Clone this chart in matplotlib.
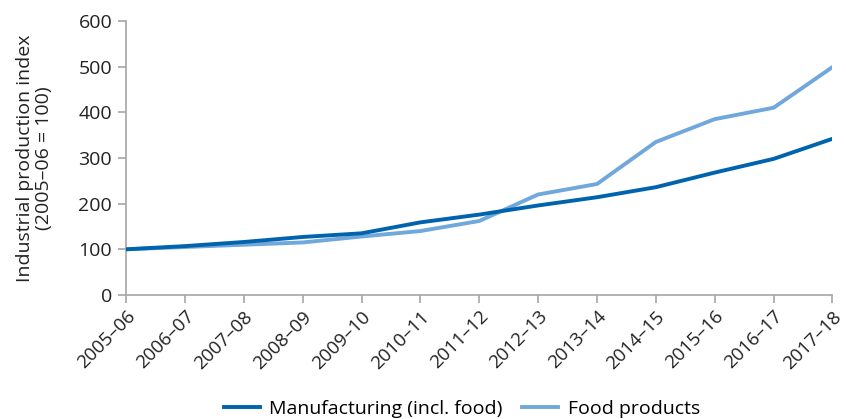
import matplotlib.pyplot as plt
import numpy as np

plt.rcParams["font.family"] = ["Open Sans", "DejaVu Sans"]

years = ["2005–06", "2006–07", "2007–08", "2008–09", "2009–10", "2010–11",
         "2011–12", "2012–13", "2013–14", "2014–15", "2015–16", "2016–17",
         "2017–18"]
manufacturing = [100, 107, 116, 127, 135, 159, 176, 196, 214, 236, 268, 298, 342]
food_products = [100, 105, 110, 115, 128, 140, 162, 220, 243, 335, 385, 410, 499]

dark_blue = "#0063ad"
light_blue = "#70a8db"
axis_grey = "#a6a6a6"
text_col = "#222222"

fig = plt.figure(figsize=(8.46, 4.19), dpi=100)
ax = fig.add_axes([0.149, 0.296, 0.835, 0.654])

x = np.arange(len(years))
ax.plot(x, manufacturing, color=dark_blue, lw=2.8, label="Manufacturing (incl. food)", zorder=3)
ax.plot(x, food_products, color=light_blue, lw=2.8, label="Food products", zorder=2)

ax.set_xlim(0, len(years) - 1)
ax.set_ylim(0, 600)
ax.set_yticks(range(0, 601, 100))
ax.set_xticks(x)
ax.set_xticklabels(years, rotation=45, ha="right", rotation_mode="anchor")

for side in ["top", "right"]:
    ax.spines[side].set_visible(False)
for side in ["left", "bottom"]:
    ax.spines[side].set_color(axis_grey)
    ax.spines[side].set_linewidth(1.2)
ax.tick_params(axis="both", colors=axis_grey, labelcolor=text_col, labelsize=14,
               length=6, width=1.2, direction="out")
ax.tick_params(axis="x", pad=3, labelsize=13.5)
ax.tick_params(axis="y", pad=4)

ax.set_ylabel("Industrial production index\n(2005–06 = 100)", fontsize=14,
              color=text_col, labelpad=18, linespacing=1.1)

ax.legend(loc="center", bbox_to_anchor=(0.546, 0.024), bbox_transform=fig.transFigure,
          ncol=2, frameon=False, fontsize=14, handlelength=1.85, columnspacing=1.0,
          handletextpad=0.5, borderpad=0)

fig.savefig("out.png", dpi=100)
